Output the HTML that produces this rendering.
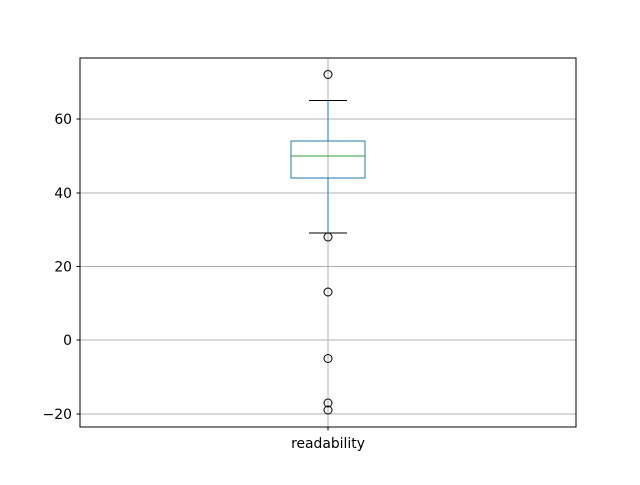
<!DOCTYPE html>
<html><head><style>body{margin:0;background:#fff}</style></head><body>
<svg width="640" height="480" xmlns="http://www.w3.org/2000/svg" font-family="'DejaVu Sans', sans-serif" shape-rendering="crispEdges">
<rect width="640" height="480" fill="#fff"/>
<g stroke="#b0b0b0" stroke-width="0.8">
<line x1="80" x2="576" y1="119" y2="119"/>
<line x1="80" x2="576" y1="193" y2="193"/>
<line x1="80" x2="576" y1="266.5" y2="266.5"/>
<line x1="80" x2="576" y1="340" y2="340"/>
<line x1="80" x2="576" y1="414" y2="414"/>
<line x1="328" x2="328" y1="58" y2="427"/>
</g>
<g stroke="#1f77b4" stroke-width="1" fill="none">
<rect x="291" y="141" width="74" height="37"/>
<line x1="328" x2="328" y1="100.5" y2="141"/>
<line x1="328" x2="328" y1="178" y2="233"/>
</g>
<g stroke="#000" stroke-width="1">
<line x1="309" x2="347" y1="100.5" y2="100.5"/>
<line x1="309" x2="347" y1="233" y2="233"/>
</g>
<line x1="291" x2="365" y1="156" y2="156" stroke="#2ca02c" stroke-width="1"/>
<g stroke="#000" fill="none" stroke-width="1" shape-rendering="auto">
<circle cx="328" cy="74.5" r="4"/>
<circle cx="328" cy="237" r="4"/>
<circle cx="328" cy="292" r="4"/>
<circle cx="328" cy="358.5" r="4"/>
<circle cx="328" cy="403" r="4"/>
<circle cx="328" cy="410" r="4"/>
</g>
<rect x="80" y="58" width="496" height="369" fill="none" stroke="#000" stroke-width="0.8"/>
<g stroke="#000" stroke-width="0.8">
<line x1="76.5" x2="80" y1="119" y2="119"/>
<line x1="76.5" x2="80" y1="193" y2="193"/>
<line x1="76.5" x2="80" y1="266.5" y2="266.5"/>
<line x1="76.5" x2="80" y1="340" y2="340"/>
<line x1="76.5" x2="80" y1="414" y2="414"/>
<line x1="328" x2="328" y1="427" y2="430.5"/>
</g>
<g font-size="13.9" text-anchor="end" fill="#000">
<text x="72" y="124">60</text>
<text x="72" y="198">40</text>
<text x="72" y="271.5">20</text>
<text x="72" y="345">0</text>
<text x="72" y="419">−20</text>
</g>
<text x="328" y="448" font-size="13.9" text-anchor="middle">readability</text>
</svg>
</body></html>
